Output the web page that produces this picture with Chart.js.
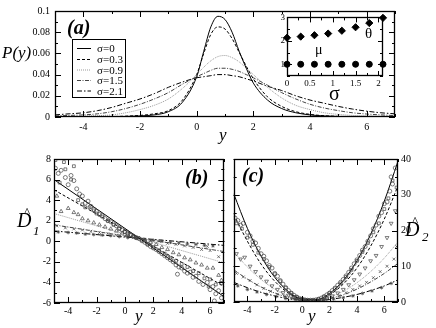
<!DOCTYPE html>
<html>
<head>
<meta charset="utf-8">
<script src="https://cdn.jsdelivr.net/npm/chart.js@4.4.1/dist/chart.umd.min.js"></script>
<style>
body { margin: 0; background: #fff; }
#wrap { position: relative; width: 436px; height: 328px; overflow: hidden; font-family: "Liberation Serif", serif; color: #000; }
canvas { position: absolute; }
.lbl { position: absolute; white-space: nowrap; line-height: 1; }
.it { font-style: italic; }
.bi { font-style: italic; font-weight: bold; }
#legend { position: absolute; left: 72px; top: 39px; width: 52px; height: 57px; border: 1px solid #000; background: #fff; }
#legend svg { position: absolute; left: 0; top: 0; }
#legend div { position: absolute; left: 24px; font-size: 11px; line-height: 1; }
</style>
</head>
<body>
<div id="wrap">
  <canvas id="chartA" width="436" height="145" style="left:0;top:0"></canvas>
  <canvas id="chartB" width="229" height="178" style="left:0;top:150px"></canvas>
  <canvas id="chartC" width="207" height="178" style="left:229px;top:150px"></canvas>
  <canvas id="inset" width="120" height="80" style="left:270px;top:10px"></canvas>

  <div class="lbl it" style="left:2px;top:44px;font-size:17px">P(y)</div>
  <div class="lbl bi" style="left:67px;top:17px;font-size:20px">(a)</div>
  <div class="lbl it" style="left:219px;top:126px;font-size:17px">y</div>

  <div id="legend">
    <svg width="52" height="57">
      <line x1="4" y1="8.5" x2="18" y2="8.5" stroke="#000" stroke-width="1"/>
      <line x1="4" y1="19.5" x2="18" y2="19.5" stroke="#000" stroke-width="1" stroke-dasharray="3,2"/>
      <line x1="4" y1="30" x2="18" y2="30" stroke="#999" stroke-width="1" stroke-dasharray="1,1"/>
      <line x1="4" y1="40.5" x2="18" y2="40.5" stroke="#444" stroke-width="1" stroke-dasharray="4,1.5,1,1.5"/>
      <line x1="4" y1="51" x2="18" y2="51" stroke="#000" stroke-width="1" stroke-dasharray="5,2,1.5,2"/>
    </svg>
    <div style="top:3px">σ=0</div>
    <div style="top:14px">σ=0.3</div>
    <div style="top:24.5px">σ=0.9</div>
    <div style="top:35px">σ=1.5</div>
    <div style="top:45.5px">σ=2.1</div>
  </div>

  <div class="lbl" style="left:329px;top:83px;font-size:20px">σ</div>
  <div class="lbl" style="left:365px;top:26px;font-size:15px">θ</div>
  <div class="lbl" style="left:315px;top:43px;font-size:14px">μ</div>

  <div class="lbl bi" style="left:185px;top:167px;font-size:20px">(b)</div>
  <div class="lbl it" style="left:135px;top:307px;font-size:17px">y</div>
  <div class="lbl it" style="left:17px;top:210px;font-size:20px">D</div>
  <div class="lbl" style="left:24px;top:205px;font-size:13px">^</div>
  <div class="lbl it" style="left:33px;top:224px;font-size:13px">1</div>

  <div class="lbl bi" style="left:242px;top:165px;font-size:20px">(c)</div>
  <div class="lbl it" style="left:308px;top:307px;font-size:17px">y</div>
  <div class="lbl it" style="left:405px;top:219px;font-size:20px">D</div>
  <div class="lbl" style="left:412px;top:214px;font-size:13px">^</div>
  <div class="lbl it" style="left:422px;top:230px;font-size:13px">2</div>
</div>

<script>
// ---- panel (a): P(y) ----
const yGrid = [-5, -4.5, -4, -3.5, -3, -2.5, -2, -1.5, -1, -0.5, 0, 0.25, 0.5, 0.75, 1, 1.25, 1.5, 1.75, 2, 2.5, 3, 3.5, 4, 4.5, 5, 5.5, 6, 6.5, 7];
const pSigma0 = [0, 0, 0, 0, 0.0002, 0.0005, 0.001, 0.002, 0.005, 0.014, 0.038, 0.062, 0.085, 0.095, 0.092, 0.08, 0.062, 0.046, 0.032, 0.016, 0.008, 0.004, 0.002, 0.001, 0.0005, 0.0003, 0.0001, 0, 0];
const pSigma03 = [0, 0, 0.0001, 0.0002, 0.0004, 0.0008, 0.0015, 0.003, 0.006, 0.016, 0.04, 0.06, 0.078, 0.085, 0.083, 0.074, 0.061, 0.048, 0.036, 0.019, 0.01, 0.005, 0.0025, 0.0012, 0.0006, 0.0003, 0.0001, 0, 0];
const pSigma09 = [0.0003, 0.0005, 0.0008, 0.0013, 0.002, 0.004, 0.007, 0.011, 0.017, 0.027, 0.04, 0.047, 0.053, 0.057, 0.058, 0.056, 0.052, 0.046, 0.04, 0.028, 0.018, 0.011, 0.007, 0.004, 0.0025, 0.0015, 0.001, 0.0006, 0.0004];
const pSigma15 = [0.001, 0.0015, 0.002, 0.003, 0.005, 0.008, 0.012, 0.017, 0.023, 0.031, 0.038, 0.041, 0.044, 0.046, 0.046, 0.045, 0.043, 0.04, 0.037, 0.03, 0.023, 0.017, 0.012, 0.0085, 0.006, 0.004, 0.0028, 0.002, 0.0013];
const pSigma21 = [0.002, 0.003, 0.004, 0.006, 0.009, 0.013, 0.017, 0.022, 0.028, 0.033, 0.037, 0.038, 0.039, 0.04, 0.04, 0.039, 0.038, 0.036, 0.034, 0.029, 0.025, 0.02, 0.016, 0.013, 0.01, 0.0075, 0.0055, 0.004, 0.003];
const sigmaLabels = ["σ=0", "σ=0.3", "σ=0.9", "σ=1.5", "σ=2.1"];

// ---- inset: fitted parameters vs sigma ----
const sigmaVals = [0, 0.3, 0.6, 0.9, 1.2, 1.5, 1.8, 2.1];
const thetaVals = [2.13, 2.18, 2.24, 2.31, 2.43, 2.58, 2.76, 2.98];
const muVals = [1, 1, 1, 1, 1, 1, 1, 1];

// ---- panel (b): D1 estimates ----
const lineEnds = [-5, 7];
const d1Line0 = [6.0, -5.4];
const d1Line03 = [5.0, -4.4];
const d1Line09 = [2.7, -2.1];
const d1Line15 = [1.6, -1.0];
const d1Line21 = [1.0, -0.4];
const d1Circles = [[-4.9, 7.1], [-4.7, 6.6], [-4.5, 6.9], [-4.2, 6.2], [-4.0, 5.5], [-3.8, 6.4], [-3.6, 5.9], [-3.4, 5.1], [-3.2, 4.6], [-3.0, 4.4], [-2.8, 3.7], [-2.6, 3.9], [-2.4, 3.4], [-2.2, 3.1], [-2.0, 2.9], [-1.8, 2.6], [-1.6, 2.5], [-1.4, 2.2], [-1.2, 2.0], [-1.0, 1.9], [-0.8, 1.7], [-0.6, 1.5], [-0.4, 1.3], [-0.2, 1.1], [0, 0.95], [0.2, 0.8], [0.4, 0.65], [0.6, 0.5], [0.8, 0.35], [1.0, 0.25], [1.2, 0.05], [1.4, -0.1], [1.6, -0.3], [1.8, -0.5], [2.0, -0.65], [2.2, -0.8], [2.4, -1.0], [2.6, -1.2], [2.8, -1.4], [3.0, -1.6], [3.2, -1.8], [3.4, -2.0], [3.6, -2.3], [3.8, -2.5], [4.0, -2.6], [4.2, -2.9], [4.4, -3.1], [4.6, -3.0], [4.8, -3.5], [5.0, -3.4], [5.2, -3.9], [5.5, -4.2], [5.8, -4.0], [6.0, -4.7], [6.2, -4.4], [6.4, -5.1], [6.6, -4.8], [6.8, -5.5], [3.7, -3.2], [6.3, -5.8]];
const d1Squares = [[-4.9, 7.9], [-4.3, 7.7], [-4.2, 7.0], [-3.6, 7.3], [-3.8, 6.0], [-4.6, 5.7], [-3.3, 4.0], [-3.0, 3.6], [-2.8, 3.3], [-2.5, 3.3], [-2.2, 3.0], [-2.0, 2.7], [-1.6, 2.4], [-1.2, 2.0], [-0.8, 1.6], [-0.4, 1.2], [0, 0.9], [0.4, 0.6], [0.8, 0.35], [1.2, 0.1], [1.6, -0.3], [2.0, -0.6], [2.4, -0.9], [2.8, -1.2], [3.2, -1.6], [3.6, -1.9], [4.0, -2.2], [4.4, -2.5], [4.8, -2.9], [5.2, -3.1], [5.6, -3.6], [6.0, -3.7], [6.4, -4.2], [6.8, -4.1], [5.9, -4.4]];
const d1Triangles = [[-4.8, 4.4], [-4.5, 2.9], [-4.0, 3.2], [-3.6, 2.8], [-3.3, 2.6], [-3.0, 2.2], [-2.6, 2.0], [-2.2, 1.8], [-1.8, 1.6], [-1.4, 1.4], [-1.0, 1.2], [-0.6, 1.0], [-0.2, 0.8], [0.2, 0.65], [0.6, 0.45], [1.0, 0.3], [1.4, 0.1], [1.8, -0.1], [2.2, -0.3], [2.6, -0.6], [3.0, -0.8], [3.4, -1.1], [3.8, -1.3], [4.2, -1.6], [4.6, -1.8], [5.0, -2.1], [5.4, -2.3], [5.8, -2.6], [6.2, -2.6], [6.6, -3.3], [6.8, -3.8]];
const d1Crosses = [[-4.8, 1.5], [-4.2, 1.3], [-3.6, 1.2], [-3.0, 1.1], [-2.4, 0.95], [-1.8, 0.85], [-1.2, 0.75], [-0.6, 0.6], [0, 0.5], [0.6, 0.35], [1.2, 0.25], [1.8, 0.1], [2.4, 0], [3.0, -0.2], [3.6, -0.3], [4.2, -0.45], [4.8, -0.6], [5.4, -0.8], [6.0, -0.9], [6.6, -1.5], [5.8, -0.5]];
const d1Stars = [[-4.7, 0.9], [-4.0, 0.85], [-3.4, 0.8], [-2.8, 0.7], [-2.2, 0.65], [-1.6, 0.6], [-1.0, 0.55], [-0.4, 0.45], [0.2, 0.35], [0.8, 0.3], [1.4, 0.2], [2.0, 0.1], [2.6, 0], [3.2, -0.1], [3.8, -0.15], [4.4, -0.25], [5.0, -0.3], [5.6, -0.4], [6.2, -0.45]];

// ---- panel (c): D2 estimates ----
const d2Grid = [-5, -4, -3, -2, -1, 0, 1, 2, 3, 4, 5, 6, 7];
const d2Line0 = [30.3, 20.6, 12.8, 6.9, 2.9, 0.84, 0.65, 2.4, 6.0, 11.5, 18.9, 28.2, 39.4];
const d2Line03 = [24.5, 17.0, 10.6, 5.8, 2.5, 0.8, 0.6, 2.0, 5.0, 9.5, 15.6, 23.2, 32.5];
const d2Line09 = [14.0, 9.8, 6.3, 3.6, 1.7, 0.7, 0.6, 1.4, 3.0, 5.4, 8.5, 12.3, 16.8];
const d2Line15 = [9.0, 6.4, 4.2, 2.5, 1.3, 0.6, 0.5, 1.0, 2.0, 3.6, 5.6, 8.0, 10.8];
const d2Line21 = [5.5, 4.0, 2.7, 1.7, 0.9, 0.5, 0.4, 0.7, 1.3, 2.1, 3.2, 4.5, 6.2];
const d2Circles = [[-4.9, 23.5], [-4.7, 22.8], [-4.5, 21.5], [-4.3, 22.0], [-4.0, 19.5], [-3.8, 18.5], [-3.6, 17.0], [-3.4, 16.5], [-3.2, 15.0], [-3.0, 13.5], [-2.8, 12.8], [-2.6, 11.5], [-2.4, 10.2], [-2.2, 9.5], [-2.0, 8.0], [-1.8, 7.2], [-1.6, 6.0], [-1.4, 5.0], [-1.2, 4.0], [-1.0, 3.2], [-0.8, 2.5], [-0.6, 1.9], [-0.4, 1.4], [-0.2, 1.0], [0, 0.8], [0.2, 0.6], [0.4, 0.5], [0.6, 0.5], [0.8, 0.5], [1.0, 0.6], [1.2, 0.8], [1.4, 1.1], [1.6, 1.5], [1.8, 2.0], [2.0, 2.5], [2.2, 3.2], [2.4, 3.9], [2.6, 4.7], [2.8, 5.5], [3.0, 6.3], [3.2, 7.3], [3.4, 8.3], [3.6, 9.5], [3.8, 10.7], [4.0, 11.8], [4.2, 13.0], [4.4, 14.5], [4.6, 15.5], [4.8, 17.0], [5.0, 18.5], [5.2, 20.5], [5.4, 21.5], [5.6, 24.0], [5.8, 25.0], [6.0, 27.5], [6.2, 28.0], [6.4, 31.0], [6.6, 33.0], [6.8, 37.5], [6.5, 35.0]];
const d2Squares = [[-4.8, 22.0], [-4.4, 20.5], [-4.0, 18.0], [-3.6, 16.0], [-3.2, 13.8], [-2.8, 12.0], [-2.4, 9.8], [-2.0, 7.8], [-1.6, 5.8], [-1.2, 4.0], [-0.8, 2.5], [-0.4, 1.4], [0, 0.7], [0.4, 0.5], [0.8, 0.5], [1.2, 0.8], [1.6, 1.5], [2.0, 2.5], [2.4, 3.8], [2.8, 5.2], [3.2, 7.0], [3.6, 9.0], [4.0, 11.5], [4.4, 14.0], [4.8, 16.5], [5.2, 19.5], [5.6, 22.0], [6.0, 26.0], [6.3, 29.0], [6.6, 34.0], [6.9, 32.0]];
const d2Triangles = [[-4.8, 13.5], [-4.5, 12.0], [-4.2, 12.5], [-3.8, 10.0], [-3.4, 8.5], [-3.0, 7.0], [-2.6, 5.8], [-2.2, 4.5], [-1.8, 3.5], [-1.4, 2.6], [-1.0, 1.9], [-0.6, 1.3], [-0.2, 0.9], [0.2, 0.6], [0.6, 0.5], [1.0, 0.5], [1.4, 0.7], [1.8, 1.1], [2.2, 1.7], [2.6, 2.5], [3.0, 3.5], [3.4, 4.8], [3.8, 6.2], [4.2, 7.8], [4.6, 9.5], [5.0, 11.5], [5.4, 13.0], [5.8, 15.5], [6.2, 18.0], [6.5, 22.0], [6.8, 25.5]];
const d2Crosses = [[-4.8, 8.0], [-4.3, 7.0], [-3.8, 6.0], [-3.3, 4.8], [-2.8, 3.8], [-2.3, 3.0], [-1.8, 2.2], [-1.3, 1.6], [-0.8, 1.1], [-0.3, 0.8], [0.2, 0.6], [0.7, 0.5], [1.2, 0.5], [1.7, 0.8], [2.2, 1.2], [2.7, 1.8], [3.2, 2.6], [3.7, 3.5], [4.2, 4.5], [4.7, 5.5], [5.2, 6.8], [5.7, 8.5], [6.2, 10.0], [6.7, 12.0], [6.9, 15.5]];
const d2Stars = [[-4.7, 4.5], [-4.0, 3.5], [-3.3, 2.8], [-2.6, 2.1], [-1.9, 1.5], [-1.2, 1.0], [-0.5, 0.7], [0.2, 0.5], [0.9, 0.4], [1.6, 0.5], [2.3, 0.8], [3.0, 1.2], [3.7, 1.7], [4.4, 2.4], [5.1, 3.1], [5.8, 4.0], [6.5, 5.2]];

// ---- tick labels ----
const yTickLabels = [-4, -2, 0, 2, 4, 6];
const pTicks = [0, 0.02, 0.04, 0.06, 0.08, 0.1];
const sigmaTicks = [0, 0.5, 1, 1.5, 2];
const paramTicks = [1, 2, 3];
const d1Ticks = [-6, -4, -2, 0, 2, 4, 6, 8];
const d2Ticks = [0, 10, 20, 30, 40];

Chart.defaults.font.family = '"Liberation Serif", serif';
Chart.defaults.font.size = 10;
Chart.defaults.color = "#000";

const styles = [
    { color: "#000", dash: [] },
    { color: "#000", dash: [3, 2] },
    { color: "#999", dash: [1, 1] },
    { color: "#444", dash: [4, 1.5, 1, 1.5] },
    { color: "#000", dash: [5, 2, 1.5, 2] }
];

// box around the plot area with inward ticks on all four sides
const framePlugin = {
    id: "frame",
    beforeDatasetsDraw(chart, args, opts) {
        if (!opts.fill) return;
        const a = chart.chartArea;
        chart.ctx.save();
        chart.ctx.fillStyle = opts.fill;
        chart.ctx.fillRect(a.left, a.top, a.right - a.left, a.bottom - a.top);
        chart.ctx.restore();
    },
    afterDatasetsDraw(chart, args, opts) {
        const { ctx, chartArea: a, scales } = chart;
        ctx.save();
        ctx.strokeStyle = "#000";
        ctx.lineWidth = 1;
        ctx.beginPath();
        const marks = (scale, step, len, horiz) => {
            const n0 = Math.ceil(scale.min / step - 1e-9);
            const n1 = Math.floor(scale.max / step + 1e-9);
            for (let n = n0; n <= n1; n++) {
                const p = Math.round(scale.getPixelForValue(n * step)) + 0.5;
                if (horiz) {
                    ctx.moveTo(p, a.bottom); ctx.lineTo(p, a.bottom - len);
                    ctx.moveTo(p, a.top); ctx.lineTo(p, a.top + len);
                } else {
                    ctx.moveTo(a.left, p); ctx.lineTo(a.left + len, p);
                    ctx.moveTo(a.right, p); ctx.lineTo(a.right - len, p);
                }
            }
        };
        marks(scales.x, opts.xMinor, opts.minorLen || 3, true);
        marks(scales.x, opts.xMajor, opts.majorLen || 6, true);
        marks(scales.y, opts.yMinor, opts.minorLen || 3, false);
        marks(scales.y, opts.yMajor, opts.majorLen || 6, false);
        ctx.stroke();
        ctx.lineWidth = 1.3;
        ctx.strokeRect(Math.round(a.left) + 0.5, Math.round(a.top) + 0.5,
            Math.round(a.right - a.left) - 1, Math.round(a.bottom - a.top) - 1);
        ctx.restore();
    }
};

function axis(min, max, tickList, size, pad, extra) {
    return Object.assign({
        type: "linear",
        min: min,
        max: max,
        grid: { display: false, drawTicks: false },
        border: { display: false },
        ticks: { padding: pad, autoSkip: false, maxRotation: 0, callback: v => `${v}` },
        afterBuildTicks: s => { s.ticks = tickList.map(v => ({ value: v })); },
        afterFit: s => { if (s.isHorizontal()) s.height = size; else s.width = size; }
    }, extra || {});
}

function baseOptions(padding, scales, frame) {
    return {
        responsive: false,
        animation: false,
        events: [],
        layout: { padding: padding },
        scales: scales,
        plugins: { legend: { display: false }, tooltip: { enabled: false }, frame: frame }
    };
}

function pts(xs, ys) {
    return xs.map((x, i) => ({ x: x, y: ys[i] }));
}

function pairs(list) {
    return list.map(p => ({ x: p[0], y: p[1] }));
}

function lineSet(data, i, smooth) {
    return {
        data: data,
        showLine: true,
        pointRadius: 0,
        borderColor: styles[i].color,
        borderDash: styles[i].dash,
        borderWidth: 1,
        cubicInterpolationMode: smooth ? "monotone" : "default"
    };
}

function markSet(list, shape, radius, rotation) {
    return {
        data: pairs(list),
        showLine: false,
        pointStyle: shape,
        pointRadius: radius,
        pointRotation: rotation || 0,
        pointBorderColor: "#444",
        pointBackgroundColor: "rgba(0,0,0,0)",
        pointBorderWidth: 0.7
    };
}

// panel (a)
const pSeries = [pSigma0, pSigma03, pSigma09, pSigma15, pSigma21];
new Chart(document.getElementById("chartA"), {
    type: "scatter",
    data: {
        datasets: pSeries.map((s, i) => Object.assign(lineSet(pts(yGrid, s), i, true), { label: sigmaLabels[i] }))
    },
    options: baseOptions(
        { left: 0, right: 41, top: 5, bottom: 0 },
        { x: axis(-5, 7, yTickLabels, 28, 4), y: axis(0, 0.1, pTicks, 55, 5) },
        { xMajor: 2, xMinor: 1, yMajor: 0.02, yMinor: 0.01 }
    ),
    plugins: [framePlugin]
});

// inset
new Chart(document.getElementById("inset"), {
    type: "scatter",
    data: {
        datasets: [
            { data: pts(sigmaVals, thetaVals), pointStyle: "rectRot", pointRadius: 3.6, pointBackgroundColor: "#000", pointBorderColor: "#000", clip: false },
            { data: pts(sigmaVals, muVals), pointStyle: "circle", pointRadius: 3, pointBackgroundColor: "#000", pointBorderColor: "#000", clip: false }
        ]
    },
    options: baseOptions(
        { left: 0, right: 7, top: 5, bottom: 0 },
        {
            x: axis(0, 2.1, sigmaTicks, 14, 2, { ticks: { padding: 2, autoSkip: false, maxRotation: 0, font: { size: 9 }, callback: v => `${v}` } }),
            y: axis(0.5, 3, paramTicks, 17, 2, { ticks: { padding: 2, autoSkip: false, font: { size: 9 }, callback: v => `${v}` } })
        },
        { xMajor: 0.5, xMinor: 0.25, yMajor: 1, yMinor: 0.5, majorLen: 5, minorLen: 3, fill: "#fff" }
    ),
    plugins: [framePlugin]
});

// panel (b)
const d1Lines = [d1Line0, d1Line03, d1Line09, d1Line15, d1Line21];
new Chart(document.getElementById("chartB"), {
    type: "scatter",
    data: {
        datasets: [
            markSet(d1Circles, "circle", 2),
            markSet(d1Squares, "rect", 2),
            markSet(d1Triangles, "triangle", 2.2),
            markSet(d1Crosses, "crossRot", 2),
            markSet(d1Stars, "star", 1.8)
        ].concat(d1Lines.map((l, i) => lineSet(pts(lineEnds, l), i, false)))
    },
    options: baseOptions(
        { left: 0, right: 2, top: 6, bottom: 0 },
        { x: axis(-5, 7, yTickLabels, 25, 2), y: axis(-6, 8, d1Ticks, 54, 3) },
        { xMajor: 2, xMinor: 1, yMajor: 2, yMinor: 1 }
    ),
    plugins: [framePlugin]
});

// panel (c)
const d2Lines = [d2Line0, d2Line03, d2Line09, d2Line15, d2Line21];
new Chart(document.getElementById("chartC"), {
    type: "scatter",
    data: {
        datasets: [
            markSet(d2Circles, "circle", 2),
            markSet(d2Squares, "rect", 2),
            markSet(d2Triangles, "triangle", 2.2, 180),
            markSet(d2Crosses, "crossRot", 2),
            markSet(d2Stars, "star", 1.8)
        ].concat(d2Lines.map((l, i) => lineSet(pts(d2Grid, l), i, true)))
    },
    options: baseOptions(
        { left: 0, right: 0, top: 5, bottom: 0 },
        { x: axis(-5, 7, yTickLabels, 26, 2), y: axis(0, 40, d2Ticks, 38, 3, { position: "right" }) },
        { xMajor: 2, xMinor: 1, yMajor: 10, yMinor: 5 }
    ),
    plugins: [framePlugin]
});
</script>
</body>
</html>
